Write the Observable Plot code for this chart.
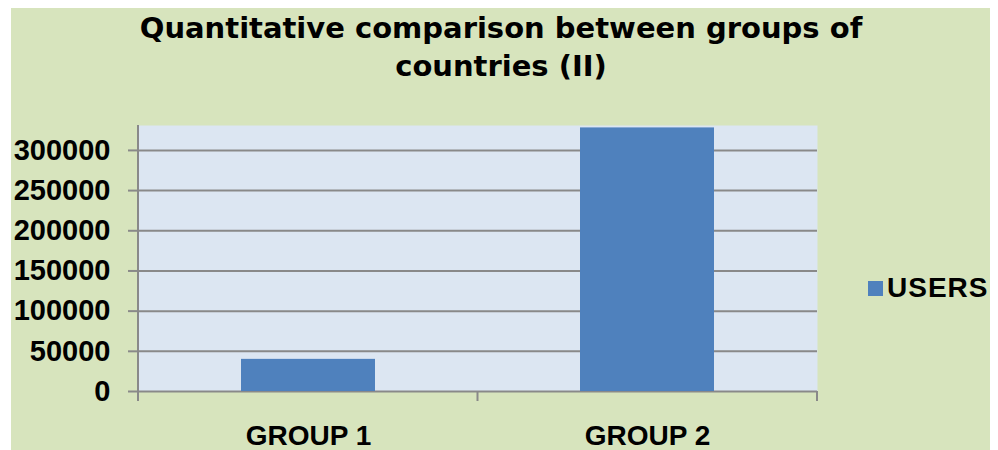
<!DOCTYPE html>
<html>
<head>
<meta charset="utf-8">
<script src="https://cdn.jsdelivr.net/npm/d3@7"></script>
<script src="https://cdn.jsdelivr.net/npm/@observablehq/plot@0.6"></script>
<style>
  html, body { margin: 0; padding: 0; background: #ffffff; }
  #wrap { position: relative; width: 998px; height: 450px; overflow: hidden; background: #ffffff; }
  #panel { position: absolute; left: 11px; top: 8px; width: 979px; height: 442px; background: #d7e4bd; }
  #title { position: absolute; left: 0; top: 9px; width: 1002px; text-align: center;
           font-family: "DejaVu Sans", Verdana, sans-serif; font-weight: bold; font-size: 29px;
           line-height: 38px; color: #000; }
  #chart { position: absolute; left: 0; top: 0; }
  #legend { position: absolute; left: 868px; top: 274px; font-family: "Liberation Sans", Arial, sans-serif;
            font-weight: bold; font-size: 28px; line-height: 28px; letter-spacing: 1px; color: #000; white-space: nowrap; }
  #legend .sw { display: inline-block; width: 15px; height: 15px; background: #4f81bd; margin-right: 4px; vertical-align: 1px; }
</style>
</head>
<body>
<div id="wrap">
  <div id="panel"></div>
  <div id="chart"></div>
  <div id="title">Quantitative comparison between groups of<br>countries (II)</div>
  <div id="legend"></div>
</div>
<script>
// ---- data ----
const categories = ["GROUP 1", "GROUP 2"];
const users = [40000, 328000];
const yTicks = [0, 50000, 100000, 150000, 200000, 250000, 300000];
const seriesName = "USERS";
const titleText = "Quantitative comparison between groups of countries (II)";

const data = categories.map((c, i) => ({group: c, users: users[i]}));

const gridColor = "#898989";
const barColor = "#4f81bd";

const chart = Plot.plot({
  width: 998,
  height: 450,
  marginLeft: 138,
  marginRight: 181,
  marginTop: 125,
  marginBottom: 59,
  style: {background: "transparent", fontFamily: "'Liberation Sans', Arial, sans-serif", color: "#000", overflow: "visible"},
  x: {domain: categories, paddingInner: 0.606, paddingOuter: 0.303, label: null},
  y: {domain: [0, 331000], label: null},
  marks: [
    Plot.frame({fill: "#dce6f2", stroke: "none"}),
    Plot.ruleY(yTicks, {stroke: gridColor, strokeWidth: 2}),
    Plot.barY(data, {x: "group", y: "users", fill: barColor}),
    Plot.axisY({
      ticks: yTicks, tickFormat: d3.format("d"), tickSize: 10, tickPadding: 18,
      stroke: gridColor, strokeWidth: 2, fill: "#000",
      fontSize: 29, fontWeight: "bold", label: null
    }),
    Plot.axisX({
      tickSize: 0, tickPadding: 34, fill: "#000",
      fontSize: 28, fontWeight: "bold", label: null
    })
  ]
});
document.getElementById("chart").appendChild(chart);

// Category-boundary tick marks and the vertical axis line, derived from Plot's scales
const xs = chart.scale("x");
const ys = chart.scale("y");
const [r0, r1] = xs.range;
const step = (r1 - r0) / categories.length;
const y0 = ys.apply(0);
const yTop = Math.min(...ys.range);
const g = d3.select(chart).append("g").attr("stroke", gridColor).attr("stroke-width", 2);
g.append("line").attr("x1", r0).attr("x2", r0).attr("y1", yTop).attr("y2", y0 + 10);
d3.range(categories.length + 1).forEach(k => {
  const x = r0 + k * step;
  g.append("line").attr("x1", x).attr("x2", x).attr("y1", y0).attr("y2", y0 + 10);
});

// Legend
const lg = document.getElementById("legend");
lg.innerHTML = '<span class="sw"></span>' + seriesName;
</script>
</body>
</html>
